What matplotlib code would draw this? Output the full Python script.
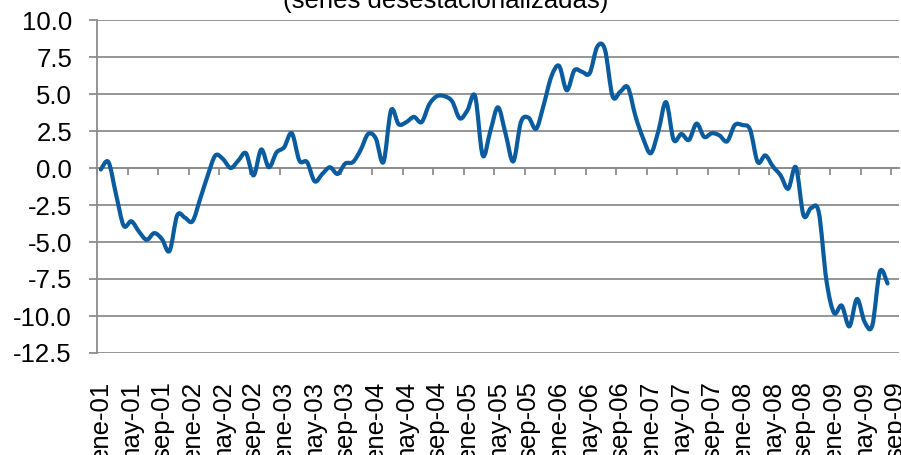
import matplotlib.pyplot as plt
import numpy as np
from matplotlib.path import Path
from matplotlib.patches import PathPatch

plt.rcParams['font.family'] = ['Liberation Sans', 'DejaVu Sans']

# serie mensual desestacionalizada, ene-01 .. ago-09
valores = [
    -0.1, 0.4, -1.8, -3.9, -3.6, -4.3, -4.85, -4.4, -4.8, -5.6,
    -3.2, -3.35, -3.6, -2.1, -0.5, 0.85, 0.6, 0.0, 0.5, 1.0,
    -0.5, 1.25, 0.05, 1.05, 1.4, 2.35, 0.5, 0.4, -0.9, -0.4,
    0.05, -0.4, 0.3, 0.4, 1.2, 2.3, 2.0, 0.4, 3.9, 2.95,
    3.1, 3.45, 3.1, 4.3, 4.85, 4.85, 4.5, 3.35, 3.9, 4.85,
    0.85, 2.5, 4.1, 2.3, 0.45, 3.1, 3.4, 2.65, 4.3, 6.2,
    6.9, 5.25, 6.6, 6.5, 6.4, 8.2, 8.0, 4.85, 5.15, 5.45,
    3.5, 2.0, 1.0, 2.5, 4.45, 1.9, 2.3, 1.9, 3.0, 2.1,
    2.35, 2.2, 1.8, 2.9, 2.9, 2.6, 0.4, 0.85, 0.1, -0.5,
    -1.4, 0.05, -3.2, -2.7, -3.0, -7.6, -9.8, -9.3, -10.7, -8.85,
    -10.4, -10.65, -7.0, -7.8,
]
meses = ['ene', 'may', 'sep']
anios = range(1, 10)
etiquetas = [f'{m}-{a:02d}' for a in anios for m in meses]
n_categorias = 105  # ene-01 .. sep-09
titulo = '(series desestacionalizadas)'

gris = '#8c8c8c'
azul = '#0a5c9e'


def curva_suave(x, y):
    """Bezier por tramos (estilo linea suavizada de Excel)"""
    pts = np.column_stack([x, y])
    n = len(pts)
    verts = [pts[0]]
    codes = [Path.MOVETO]
    for i in range(n - 1):
        p0 = pts[max(i - 1, 0)]
        p1 = pts[i]
        p2 = pts[i + 1]
        p3 = pts[min(i + 2, n - 1)]
        verts += [p1 + (p2 - p0) / 6, p2 - (p3 - p1) / 6, p2]
        codes += [Path.CURVE4] * 3
    return Path(verts, codes)


fig = plt.figure(figsize=(9.01, 4.55), dpi=100)
ax = fig.add_axes([97 / 901, 1 - 353 / 455, 802 / 901, 333 / 455])

x = np.arange(len(valores))
ax.add_patch(PathPatch(curva_suave(x, valores), fill=False, edgecolor=azul,
                       lw=3.0, capstyle='round', joinstyle='round', zorder=3))

ax.set_xlim(-0.5, n_categorias - 0.5)
ax.set_ylim(-12.5, 10)

# eje y
ax.set_yticks(np.arange(-12.5, 10.01, 2.5))
ax.set_yticklabels([f'{v:.1f}' for v in np.arange(-12.5, 10.01, 2.5)])
ax.yaxis.grid(True, color=gris, lw=1.3)
ax.set_axisbelow(True)
ax.tick_params(axis='y', direction='out', length=6, width=1.3, color=gris,
               labelsize=18.5, pad=12)

# eje x cruzando en cero, etiquetas abajo
ax.spines['bottom'].set_position(('data', 0))
ax.spines['bottom'].set_color(gris)
ax.spines['bottom'].set_linewidth(1.3)
ax.spines['left'].set_color(gris)
ax.spines['left'].set_linewidth(1.3)
ax.spines['top'].set_visible(False)
ax.spines['right'].set_visible(False)
ax.set_xticks(np.arange(-0.5, n_categorias - 1, 4))
ax.set_xticklabels([])
ax.tick_params(axis='x', direction='out', length=5, width=1.3, color=gris)

sec = ax.secondary_xaxis('bottom')
sec.set_xticks(np.arange(0, n_categorias, 4))
sec.set_xticklabels(etiquetas, rotation=90)
sec.tick_params(length=0, pad=20, labelsize=18.5)
sec.spines['bottom'].set_visible(False)

fig.text(0.495, 1 - 8 / 455, titulo, ha='center', va='baseline', fontsize=18.5)

fig.savefig('out.png', dpi=100)
